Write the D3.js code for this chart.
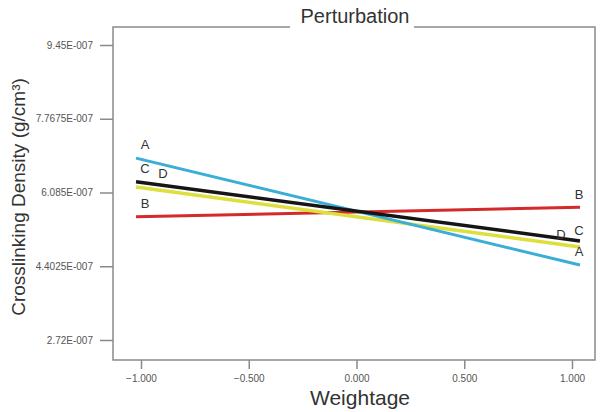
<!doctype html>
<html lang="en">
<head>
  <meta charset="utf-8">
  <title>Perturbation</title>
  <script src="https://d3js.org/d3.v7.min.js"></script>
  <style>
    body { margin: 0; background: #fff; }
    text { font-family: Arial, "Liberation Sans", sans-serif; }
    .tick text { fill: #555; font-size: 10px; }
  </style>
</head>
<body>
<div id="chart"></div>
<script>
// weightage at the two ends of each line
var xEnds = [-1.023, 1.037];

// crosslinking density at the left and right ends (g/cm3)
var seriesA = [6.87e-7, 4.43e-7];
var seriesB = [5.53e-7, 5.75e-7];
var seriesC = [6.33e-7, 4.98e-7];
var seriesD = [6.21e-7, 4.84e-7];

var seriesNames = ["A", "B", "C", "D"];
var yTicks = [2.72e-7, 4.4025e-7, 6.085e-7, 7.7675e-7, 9.45e-7];
var yTickLabels = ["2.72E-007", "4.4025E-007", "6.085E-007", "7.7675E-007", "9.45E-007"];
var xTicks = [-1, -0.5, 0, 0.5, 1];

var W = 600, H = 412;
var plotL = 113, plotR = 595, plotT = 27, plotB = 360;

var svg = d3.select("#chart").append("svg")
    .attr("width", W)
    .attr("height", H);

var x = d3.scaleLinear().domain([-1, 1]).range([141, 572]);
var y = d3.scaleLinear().domain([2.72e-7, 9.45e-7]).range([340, 45]);

// frame (top edge broken by the title)
var frame = svg.append("g").attr("stroke", "#8a8a8a").attr("stroke-width", 1.5).attr("fill", "none");
frame.append("path").attr("d", "M290," + plotT + "H" + plotL + "V" + plotB + "H" + plotR + "V" + plotT + "H414");

svg.append("text")
    .attr("x", 355).attr("y", 23)
    .attr("text-anchor", "middle")
    .attr("font-size", 20)
    .attr("fill", "#333")
    .text("Perturbation");

// y axis ticks
var yAxis = d3.axisLeft(y)
    .tickValues(yTicks)
    .tickSize(13)
    .tickPadding(7)
    .tickFormat(function (d, i) { return yTickLabels[i]; });
var gy = svg.append("g").attr("transform", "translate(" + plotL + ",0)").call(yAxis);
gy.select(".domain").remove();
gy.selectAll(".tick line").attr("stroke", "#8a8a8a").attr("stroke-width", 1.5);

// x axis ticks
var xAxis = d3.axisBottom(x)
    .tickValues(xTicks)
    .tickSize(9)
    .tickPadding(6)
    .tickFormat(d3.format(".3f"));
var gx = svg.append("g").attr("transform", "translate(0," + plotB + ")").call(xAxis);
gx.select(".domain").remove();
gx.selectAll(".tick line").attr("stroke", "#8a8a8a").attr("stroke-width", 1.5);

// axis titles
svg.append("text")
    .attr("transform", "translate(25,197) rotate(-90)")
    .attr("text-anchor", "middle")
    .attr("font-size", 19)
    .attr("fill", "#333")
    .text("Crosslinking Density (g/cm³)");

svg.append("text")
    .attr("x", 360).attr("y", 405)
    .attr("text-anchor", "middle")
    .attr("font-size", 21)
    .attr("fill", "#333")
    .text("Weightage");

// lines
var series = [
  {name: "B", values: seriesB, color: "#d42a2a", width: 3},
  {name: "D", values: seriesD, color: "#dcdf3c", width: 3.5},
  {name: "A", values: seriesA, color: "#3aaed6", width: 3},
  {name: "C", values: seriesC, color: "#151515", width: 3.5}
];

var line = d3.line()
    .x(function (d) { return x(d[0]); })
    .y(function (d) { return y(d[1]); });

svg.append("g").selectAll("path")
    .data(series)
    .enter().append("path")
    .attr("fill", "none")
    .attr("stroke", function (d) { return d.color; })
    .attr("stroke-width", function (d) { return d.width; })
    .attr("d", function (d) { return line(xEnds.map(function (xv, i) { return [xv, d.values[i]]; })); });

// end labels
var labelPos = {
  A: [[0, -9], [-10, -9]],
  B: [[0, -9], [-10, -8]],
  C: [[0, -9], [-10, -6]],
  D: [[18, -9], [-28, -8]]
};
var lbl = svg.append("g").attr("font-size", 13).attr("fill", "#333").attr("text-anchor", "middle");
seriesNames.forEach(function (name) {
  var s = series.find(function (d) { return d.name === name; });
  xEnds.forEach(function (xv, i) {
    lbl.append("text")
      .attr("x", x(xv) + 9 + labelPos[name][i][0])
      .attr("y", y(s.values[i]) + labelPos[name][i][1])
      .text(name);
  });
});
</script>
</body>
</html>
